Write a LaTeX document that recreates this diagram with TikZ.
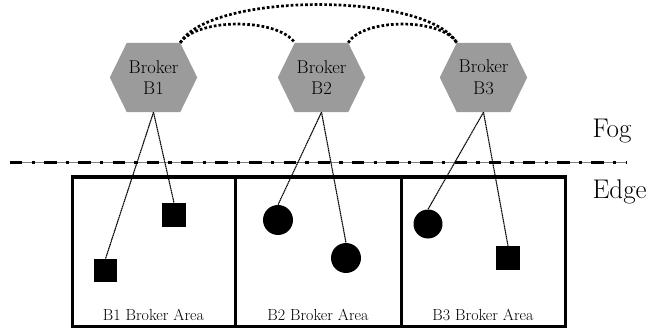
\documentclass[tikz,border=0pt]{standalone}
\usetikzlibrary{backgrounds}
\definecolor{hexgray}{RGB}{155,155,155}
\definecolor{rulegray}{RGB}{128,128,128}
\begin{document}
\begin{tikzpicture}[x=1pt,y=-1pt,
  broker/.style={minimum width=87pt,minimum height=69pt,inner sep=0pt,align=center,
    font=\fontsize{18.5}{21.7}\selectfont},
  area/.style={draw,line width=3pt,minimum width=#1,minimum height=149pt,inner sep=0pt},
  arealabel/.style={anchor=base,font=\fontsize{16}{19}\selectfont},
  layername/.style={anchor=base west,font=\fontsize{27}{32}\selectfont},
  sq/.style={fill,minimum size=#1,inner sep=0pt},
  devcirc/.style={circle,fill,minimum size=30pt,inner sep=0pt},
  link/.style={line width=1.1pt,dash pattern=on 1.4pt off 0.5pt},
  peer/.style={line width=2.7pt,dash pattern=on 2.7pt off 2.1pt},
]
\useasboundingbox (0,0) rectangle (649,329);

% brokers in the fog layer
\node[broker] (b1) at (153.5,77.5) {Broker\\B1};
\node[broker] (b2) at (321.5,77.5) {Broker\\B2};
\node[broker] (b3) at (483.5,77.5) {Broker\\B3};
\begin{scope}[on background layer]
  \foreach \b in {b1,b2,b3}
    \fill[hexgray] (\b.west) -- ([xshift=17pt]\b.north west) -- ([xshift=-17pt]\b.north east)
      -- (\b.east) -- ([xshift=-17pt]\b.south east) -- ([xshift=17pt]\b.south west) -- cycle;
\end{scope}
\coordinate (b1tr) at ([xshift=-17pt]b1.north east);
\coordinate (b2tl) at ([xshift=17pt]b2.north west);
\coordinate (b2tr) at ([xshift=-17pt]b2.north east);
\coordinate (b3tl) at ([xshift=17pt]b3.north west);

% broker-to-broker links
\draw[peer] (b1tr) .. controls +(17,-25) and +(-17,-25) .. (b2tl);
\draw[peer] (b1tr) .. controls +(30,-51) and +(-30,-51) .. (b3tl);
\draw[peer] (b2tr) .. controls +(15,-25) and +(-15,-25) .. (b3tl);

% fog / edge boundary
\coordinate (sepL) at (10,162.3);
\coordinate (sepR) at (627,162.3);
\draw[rulegray,line width=1.3pt] (sepL) -- (sepR);
\draw[line width=3pt,dash pattern=on 12.3pt off 9.3pt on 3.3pt off 9.3pt] (sepL) -- (sepR);

\node[layername] (fog) at (589,138) {Fog};
\node[layername] (edge) at (589,198) {Edge};

% broker areas
\node[area=163pt] (a1) at (153.5,251.5) {};
\node[area=166pt] (a2) at (318,251.5) {};
\node[area=164pt] (a3) at (483,251.5) {};
\node[arealabel] (l1) at (153.5,320) {B1 Broker Area};
\node[arealabel] (l2) at (318,320) {B2 Broker Area};
\node[arealabel] (l3) at (483,320) {B3 Broker Area};

% edge devices
\node[sq=24pt] (d1) at (174,215) {};
\node[sq=23pt] (d2) at (105.5,270.5) {};
\node[devcirc] (d3) at (278,220) {};
\node[devcirc] (d4) at (346,258) {};
\node[devcirc,minimum size=29pt] (d5) at (428,224) {};
\node[sq=24pt] (d6) at (508,258) {};

% device-to-broker links
\draw[link] (b1.south) -- (d2.north);
\draw[link] (b1.south) -- (d1.north);
\draw[link] (b2.south) -- (d3.north);
\draw[link] (b2.south) -- (d4.north);
\draw[link] (b3.south) -- (d5.north);
\draw[link] (b3.south) -- (d6.north);
\end{tikzpicture}
\end{document}
